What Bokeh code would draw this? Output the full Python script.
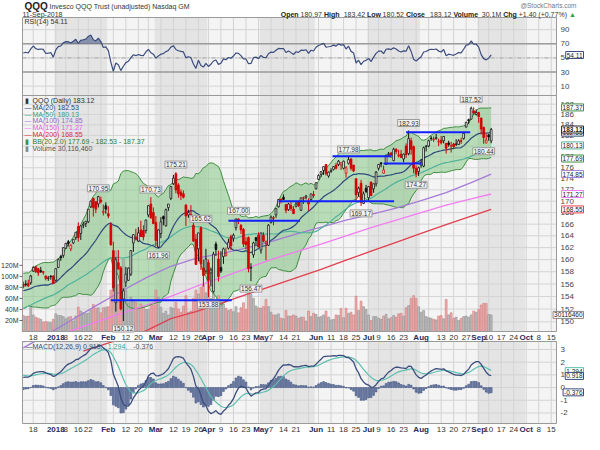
import numpy as np
from bokeh.plotting import figure
from bokeh.models import Range1d, LinearScale, LogScale, Label, ColumnDataSource
from bokeh.core.properties import value
from bokeh.embed import file_html
from bokeh.resources import INLINE

FONT = "Liberation Sans"

# ---------------- data ----------------
# closes before the visible window (warm-up for the indicators)
prior_closes = [146.6,
    146.5, 146.9, 147.0, 148.4, 148.6,
    148.3, 148.0, 148.4, 148.4, 148.8,
    149.0, 149.0, 148.6, 147.8, 148.1,
    147.2, 147.8, 146.9, 146.7, 151.9,
    152.5, 152.6,
    152.3, 152.5, 154.0,
    154.4, 154.5, 155.1, 154.3, 154.2,
    154.4, 154.0, 153.0, 155.0, 154.5,
    154.7, 156.3, 156.5, 156.9,
    156.6, 157.3, 153.6, 155.0,
    154.3,
    152.7, 152.6, 153.4, 154.6, 155.3,
    156.4]

# trading-day index: 0 = 18-Dec-2017 ... 183 = 11-Sep-2018
day_index = list(range(-4, 184))

opens = [
    156.0, 155.9, 156.1, 156.2,
    158.1, 158.8, 158.5, 158.2, 157.9,
    157.3, 156.9, 157.3, 157.3,
    156.6, 158.7, 160.5, 160.7,
    161.9, 163.0, 161.8, 162.8, 163.7,
    165.6, 164.4, 165.8, 166.1,
    166.4, 169.0, 170.5, 169.9, 169.5,
    170.2, 168.0, 169.2, 167.8, 165.9,
    161.5, 153.0, 159.5, 158.6, 153.6,
    156.3, 156.6, 157.6, 162.8, 163.8,
    163.1, 165.0, 164.9, 164.9,
    167.6, 169.5, 168.0, 166.3, 162.1,
    164.4, 167.3, 165.7, 168.9, 170.5,
    173.1, 174.9, 172.9, 171.6, 171.3,
    169.3, 167.6, 167.7, 165.8, 163.4,
    161.8, 165.4, 158.6, 158.1,
    159.5, 157.8, 154.8, 162.6, 160.1,
    158.7, 160.5, 160.7, 161.9, 163.9,
    163.6, 165.4, 166.9, 165.8, 165.1,
    163.0, 163.7, 158.6, 160.8, 163.7,
    164.1, 161.6, 164.1, 162.8, 162.4,
    166.3, 167.0, 167.6, 169.0, 170.3,
    170.7, 169.4, 168.5, 169.2, 168.6,
    169.1, 169.9, 168.4, 170.6, 170.7,
    169.8, 170.3, 171.2, 172.2,
    173.9, 174.8, 175.5, 176.6, 174.5,
    175.3, 175.7, 176.5, 176.6, 176.5,
    175.9, 175.0, 176.8, 177.6, 176.5,
    174.0, 171.5, 173.2, 169.6, 172.3,
    170.6, 173.4, 172.2, 173.1,
    175.9, 176.9, 175.0, 176.6, 178.4,
    178.7, 177.3, 179.4, 178.2, 178.5,
    177.6, 180.0, 178.6, 181.0, 179.9,
    175.9, 175.3, 176.5, 176.3, 179.9,
    180.0, 181.5, 181.2, 181.4, 180.8,
    181.1, 181.0, 180.5, 180.6, 180.0,
    180.4, 180.3, 180.3, 180.9, 181.4,
    183.6, 185.0, 185.1, 186.7, 186.0,
    186.4, 185.3, 183.5, 180.6,
    182.1, 180.97]

highs = [
    156.4, 156.6, 156.7, 157.5,
    158.9, 158.9, 158.6, 158.8, 158.1,
    157.4, 157.3, 157.4, 157.4,
    158.5, 160.2, 160.8, 162.0,
    162.8, 163.3, 162.6, 163.4, 164.6,
    166.3, 165.8, 166.4, 166.5,
    168.6, 170.1, 170.6, 170.0, 170.95,
    170.8, 169.4, 169.8, 169.1, 166.3,
    163.0, 160.4, 161.6, 158.9, 155.3,
    158.8, 158.7, 161.6, 164.2, 165.2,
    165.5, 166.6, 165.8, 166.8,
    169.3, 170.73, 168.9, 167.4, 165.1,
    167.2, 167.5, 168.7, 169.5, 172.6,
    174.7, 175.21, 173.2, 172.1, 171.9,
    169.5, 168.5, 169.3, 166.7, 164.3,
    164.5, 165.62, 160.0, 161.8,
    160.0, 158.7, 161.3, 163.0, 161.5,
    161.4, 162.0, 162.0, 163.5, 164.2,
    164.4, 166.9, 167.00, 166.0, 165.3,
    163.8, 163.9, 159.4, 163.0, 163.8,
    164.6, 164.5, 164.6, 163.2, 166.0,
    167.5, 167.4, 168.7, 170.3, 170.5,
    171.2, 169.4, 169.7, 169.8, 169.1,
    170.0, 170.0, 170.6, 170.8, 171.1,
    170.5, 171.3, 171.8, 173.3,
    174.8, 175.4, 176.2, 176.6, 175.3,
    175.9, 176.3, 176.9, 177.4, 177.0,
    177.3, 176.3, 177.98, 177.8, 176.5,
    174.1, 172.6, 173.8, 171.7, 172.9,
    172.7, 173.5, 173.1, 175.4,
    176.6, 177.0, 176.4, 178.4, 178.9,
    178.9, 179.7, 179.6, 179.3, 179.3,
    178.6, 180.5, 182.93, 181.6, 180.1,
    176.4, 176.2, 177.6, 179.9, 180.2,
    181.2, 181.9, 181.8, 182.3, 181.4,
    181.9, 181.8, 180.6, 181.0, 180.8,
    180.6, 181.3, 181.3, 181.6, 182.5,
    184.6, 185.2, 187.52, 187.4, 187.0,
    186.5, 185.4, 183.7, 182.3,
    182.3, 183.42]

lows = [
    155.3, 155.6, 155.5, 155.9,
    158.0, 157.8, 157.3, 157.8, 157.5,
    156.6, 156.5, 156.7, 156.1,
    156.4, 158.6, 159.8, 160.3,
    161.8, 162.2, 161.4, 162.6, 163.3,
    163.0, 163.3, 165.3, 165.5,
    166.2, 168.8, 167.3, 167.9, 168.9,
    169.6, 167.5, 167.8, 167.0, 162.3,
    154.8, 151.6, 158.3, 151.8, 150.12,
    155.5, 156.5, 157.3, 161.3, 163.2,
    163.0, 163.8, 163.2, 164.4,
    167.2, 166.9, 166.0, 162.2, 161.96,
    163.6, 165.8, 165.6, 168.3, 170.2,
    172.9, 171.4, 170.6, 170.2, 170.5,
    165.7, 167.1, 167.3, 163.0, 159.2,
    159.7, 158.3, 155.6, 157.6,
    153.88, 155.6, 154.6, 160.6, 156.4,
    157.8, 159.3, 160.5, 161.7, 161.6,
    163.0, 164.9, 166.0, 164.3, 162.1,
    161.7, 157.9, 156.47, 160.3, 162.3,
    162.1, 161.0, 162.9, 159.9, 162.3,
    166.1, 165.8, 167.1, 168.9, 169.6,
    170.2, 167.9, 168.3, 168.3, 167.8,
    168.9, 169.0, 168.3, 169.5, 170.3,
    168.3, 170.1, 170.6, 172.1,
    173.8, 174.3, 174.7, 174.6, 174.2,
    175.1, 175.5, 175.7, 176.3, 175.6,
    175.7, 174.2, 176.6, 175.5, 175.2,
    170.0, 170.8, 169.17, 169.5, 171.4,
    170.1, 170.9, 171.5, 172.6,
    175.5, 176.1, 175.0, 176.5, 178.1,
    177.8, 177.2, 178.5, 177.9, 177.8,
    177.0, 177.8, 178.3, 178.4, 175.0,
    174.27, 174.5, 176.0, 176.1, 179.0,
    179.8, 181.0, 180.8, 181.2, 180.0,
    180.3, 180.5, 178.6, 179.9, 178.8,
    179.5, 180.0, 180.2, 180.4, 181.2,
    183.5, 184.2, 185.0, 185.9, 185.8,
    184.4, 182.2, 180.44, 180.5,
    181.0, 180.52]

closes = [
    155.6, 155.9, 155.7, 157.3,
    158.7, 158.0, 157.8, 158.0, 157.9,
    156.9, 157.0, 157.2, 156.1,
    158.5, 160.0, 160.3, 162.0,
    162.7, 162.7, 162.4, 163.4, 164.6,
    163.7, 165.7, 166.0, 166.5,
    168.6, 170.0, 168.9, 168.6, 170.8,
    169.9, 168.2, 168.6, 167.4, 162.5,
    155.4, 160.0, 158.5, 152.0, 154.9,
    157.6, 158.6, 161.5, 164.2, 163.5,
    164.5, 163.9, 163.8, 166.7,
    169.2, 167.1, 166.1, 163.2, 165.0,
    166.4, 166.9, 168.5, 169.5, 172.6,
    174.1, 172.0, 171.3, 171.0, 170.7,
    167.4, 168.0, 167.5, 163.1, 159.2,
    164.5, 159.3, 157.4, 160.1,
    156.6, 158.3, 160.9, 161.7, 157.2,
    158.1, 161.8, 161.0, 162.9, 162.3,
    164.1, 166.9, 166.6, 165.0, 162.6,
    162.5, 158.5, 158.7, 162.8, 163.2,
    162.1, 164.5, 163.1, 163.0, 165.8,
    167.2, 167.0, 168.7, 170.3, 170.2,
    170.3, 168.4, 169.5, 168.7, 167.8,
    169.5, 169.2, 170.6, 170.5, 170.9,
    169.5, 171.3, 171.0, 173.3,
    174.6, 175.3, 176.2, 174.9, 175.2,
    175.5, 176.2, 175.9, 177.2, 176.9,
    177.2, 176.0, 177.5, 175.9, 175.4,
    171.1, 172.3, 169.8, 171.3, 171.7,
    172.6, 171.0, 173.1, 175.2,
    176.6, 176.7, 175.6, 178.3, 178.6,
    178.3, 179.4, 179.0, 178.3, 177.9,
    178.5, 178.4, 181.4, 179.4, 175.9,
    174.9, 176.0, 177.0, 179.7, 180.0,
    181.0, 181.4, 181.3, 181.6, 180.9,
    180.6, 181.8, 179.6, 180.3, 180.1,
    179.9, 180.4, 181.0, 180.9, 182.4,
    184.5, 184.8, 187.2, 186.3, 186.4,
    185.6, 183.2, 181.6, 181.1,
    181.72, 183.12]

volume_m = [
    29, 27, 28, 45,
    30, 26, 24, 22, 17,
    18, 17, 16, 22,
    32, 29, 29, 27,
    23, 26, 27, 19, 28,
    44, 37, 34, 33,
    33, 39, 49, 42, 43,
    34, 43, 44, 45, 75,
    128, 146, 85, 118, 130,
    75, 52, 62, 57, 53,
    43, 50, 45, 40,
    40, 49, 48, 75, 62,
    44, 33, 37, 30, 44,
    42, 53, 41, 35, 46,
    65, 35, 37, 60, 75,
    68, 80, 85, 70,
    85, 60, 70, 48, 65,
    52, 50, 42, 38, 40,
    36, 45, 34, 43, 52,
    40, 70, 67, 60, 46,
    43, 42, 45, 58, 45,
    35, 30, 30, 32, 24,
    23, 38, 28, 28, 30,
    28, 24, 26, 26, 19,
    37, 27, 33, 31,
    26, 27, 30, 37, 26,
    21, 22, 30, 29, 42,
    25, 42, 33, 35, 30,
    64, 38, 55, 45, 40,
    30, 20, 27, 27,
    24, 22, 28, 31, 23,
    25, 29, 26, 32, 33,
    28, 43, 47, 60, 65,
    60, 45, 35, 38, 27,
    25, 24, 22, 21, 28,
    29, 23, 58, 30, 34,
    24, 26, 20, 24, 27,
    28, 26, 30, 37, 35,
    40, 48, 51, 51,
    31, 30.12]

# long moving averages
ma100_idx = [-4, 8, 15, 25, 35, 45, 55, 65, 75, 85, 95, 105, 115, 125, 135, 145, 155, 165, 175, 183]
ma100_val = [146.0, 148.6, 150.2, 152.5, 154.8, 157.0, 158.9, 160.2, 161.0, 161.9, 163.0, 164.3,
             165.5, 166.7, 167.7, 168.8, 170.1, 171.5, 173.3, 174.85]
ma150_idx = [-4, 15, 30, 45, 55, 65, 75, 85, 95, 105, 115, 125, 135, 145, 155, 165, 175, 183]
ma150_val = [146.9, 148.6, 150.6, 152.6, 154.0, 155.6, 157.0, 158.5, 160.0, 161.3, 162.6, 164.0,
             165.4, 166.7, 168.0, 169.3, 170.4, 171.27]
ma200_idx = [20, 45, 55, 65, 75, 85, 95, 105, 115, 125, 135, 145, 155, 165, 175, 183]
ma200_val = [145.5, 148.6, 150.5, 151.6, 152.9, 154.3, 155.6, 157.0, 158.4, 159.9, 161.4, 162.9,
             164.4, 165.9, 167.4, 168.55]

# price call-outs
pl_idx = [26, 36, 47, 50, 57, 67, 70, 82, 87, 126, 131, 150, 153, 175, 180]
pl_val = [170.95, 150.12, 170.73, 161.96, 175.21, 165.62, 153.88, 167.00, 156.47,
          177.98, 169.17, 182.93, 174.27, 187.52, 180.44]
pl_above = [True, False, True, False, True, True, False, True, False,
            True, False, True, False, True, False]

# drawn support / resistance lines
hl_start = [31, 78, 98, 119.6, 140, 149]
hl_end = [79.3, 106.6, 144.2, 143, 155.2, 174.6]
hl_level = [153.4, 166.6, 170.0, 178.1, 176.8, 182.6]

# axes
grid_weeks = [0, 5, 9, 13, 18, 22, 27, 32, 37, 42, 46, 51, 56, 61, 66, 70, 75, 80, 85, 90, 95, 100,
              105, 110, 114, 119, 124, 129, 134, 138, 143, 148, 153, 158, 163, 168, 173, 178, 182,
              187, 192, 197, 202, 207]
tick_idx = [0, 9, 13, 18, 22, 30, 37, 42, 49, 56, 61, 66, 70, 75, 80, 85, 91, 95, 100, 105, 113,
            119, 124, 129, 134, 138, 143, 148, 155, 163, 168, 173, 178, 182, 187, 192, 197, 202, 207]
tick_lab = ["18", "2018", "8", "16", "22", "Feb", "12", "20", "Mar", "12", "19", "26", "Apr", "9",
            "16", "23", "May", "7", "14", "21", "Jun", "11", "18", "25", "Jul", "9", "16", "23",
            "Aug", "13", "20", "27", "Sep", "10", "17", "24", "Oct", "8", "15"]
month_start = [9, 30, 49, 70, 91, 113, 134, 155, 178, 197]  # first trading day Jan..Oct
price_ticks = list(range(150, 189, 2))
rsi_ticks = [10, 30, 50, 70, 90]
macd_ticks = [-2, -1, 0, 1, 2, 3]
vol_ticks = [20, 40, 60, 80, 100, 120]

# ---------------- indicators ----------------
allc = np.array(prior_closes + closes, dtype=float)
n0 = len(prior_closes)


def sma(a, n):
    out = np.full(a.size, np.nan)
    for i in range(n - 1, a.size):
        out[i] = a[i - n + 1:i + 1].mean()
    return out


def sstd(a, n):
    out = np.full(a.size, np.nan)
    for i in range(n - 1, a.size):
        out[i] = a[i - n + 1:i + 1].std()
    return out


def ema(a, n):
    out = np.full(a.size, np.nan)
    s = int(np.where(~np.isnan(a))[0][0])
    out[s + n - 1] = a[s:s + n].mean()
    k = 2.0 / (n + 1)
    for i in range(s + n, a.size):
        out[i] = a[i] * k + out[i - 1] * (1 - k)
    return out


ma20 = sma(allc, 20)[n0:]
sd20 = sstd(allc, 20)[n0:]
bb_up = ma20 + 2 * sd20
bb_lo = ma20 - 2 * sd20
ma50 = sma(allc, 50)[n0:]
macd_full = ema(allc, 12) - ema(allc, 26)
sig_full = ema(macd_full, 9)
macd = macd_full[n0:]
sig = sig_full[n0:]
hist = macd - sig

dd = np.diff(allc)
gg = np.clip(dd, 0, None)
ll = np.clip(-dd, 0, None)
rsi_full = np.full(allc.size, np.nan)
ag, al = gg[:14].mean(), ll[:14].mean()
rsi_full[14] = 100 - 100 / (1 + ag / al)
for i in range(15, allc.size):
    ag = (ag * 13 + gg[i - 1]) / 14
    al = (al * 13 + ll[i - 1]) / 14
    rsi_full[i] = 100 - 100 / (1 + ag / al) if al > 0 else 100
rsi = rsi_full[n0:]

# ---------------- geometry (one canvas, panels drawn inside) ----------------
W, H = 584, 434
PADL, PADR = 22, 28
X0, X1 = -4.3, 209.1
PPI = (W - PADL - PADR) / (X1 - X0)
XL, XR = X0 - PADL / PPI, X1 + PADR / PPI

RSI_T, RSI_B = 17, 95
MAIN_T, MAIN_B = 95, 331
MACD_T, MACD_B = 341, 423
RSI_HI, RSI_LO = 107.3, -3.3
P_HI, P_LO = 189.7, 148.5
V_LO, V_HI = 0.0, 428.0
M_HI, M_LO = 3.63, -2.83


def lin_range(v_top, v_bot, px_top, px_bot):
    k = (v_top - v_bot) / (px_bot - px_top)
    return Range1d(start=v_top - (H - px_top) * k, end=v_top + px_top * k)


def log_range(v_top, v_bot, px_top, px_bot):
    r = lin_range(np.log(v_top), np.log(v_bot), px_top, px_bot)
    return Range1d(start=float(np.exp(r.start)), end=float(np.exp(r.end)))


p = figure(frame_width=W, frame_height=H, x_range=Range1d(XL, XR), y_range=Range1d(H, 0),
           x_axis_location=None, y_axis_location=None, toolbar_location=None,
           output_backend="svg", min_border=0, outline_line_color=None,
           background_fill_color="white", border_fill_color="white")
p.grid.visible = False
p.extra_y_ranges = {"rsi": lin_range(RSI_HI, RSI_LO, RSI_T, RSI_B),
                    "price": log_range(P_HI, P_LO, MAIN_T, MAIN_B),
                    "vol": lin_range(V_HI, V_LO, MAIN_T, MAIN_B),
                    "macd": lin_range(M_HI, M_LO, MACD_T, MACD_B)}
p.extra_y_scales = {"rsi": LinearScale(), "price": LogScale(), "vol": LinearScale(),
                    "macd": LinearScale()}

band_l = [month_start[i] - 0.5 for i in (0, 2, 4, 6, 8)]
band_r = [month_start[i + 1] - 0.5 for i in (0, 2, 4, 6, 8)]
GRID = "#d3d3d3"

for (T, B), (rname, ticks) in zip([(RSI_T, RSI_B), (MAIN_T, MAIN_B), (MACD_T, MACD_B)],
                                  [("rsi", rsi_ticks), ("price", price_ticks),
                                   ("macd", macd_ticks)]):
    p.quad(left=X0, right=X1, top=T, bottom=B, fill_color="#f4f4f4", line_color=None)
    p.quad(left=band_l, right=band_r, top=T, bottom=B, fill_color="#e4e4e4", line_color=None)
    p.segment(x0=grid_weeks, y0=T, x1=grid_weeks, y1=B, line_color=GRID, line_width=1)
    p.segment(x0=X0, y0=ticks, x1=X1, y1=ticks, line_color=GRID, line_width=1,
              y_range_name=rname)

# ---- RSI ----
for lv, dash, col, wd in [(70, "solid", "#9c9c9c", 1.5), (30, "solid", "#9c9c9c", 1.5),
                          (50, "4 2 1 2", "#a8a8a8", 1)]:
    p.segment(x0=X0, y0=lv, x1=X1, y1=lv, line_color=col, line_width=wd, line_dash=dash,
              y_range_name="rsi")
idx = np.array(day_index, dtype=float)
p.varea(x=idx, y1=70, y2=np.maximum(rsi, 70), fill_color="#56658e", fill_alpha=0.65,
        y_range_name="rsi")
p.line(idx, rsi, line_color="#3b4d7e", line_width=1.2, y_range_name="rsi")

# ---- price panel ----
o = np.array(opens)
h = np.array(highs)
lo_ = np.array(lows)
c = np.array(closes)
prev = np.concatenate([[prior_closes[-1]], c[:-1]])
down = c < prev

p.varea(x=idx, y1=bb_lo, y2=bb_up, fill_color="#8fc98f", fill_alpha=0.6, y_range_name="price")
vsrc = ColumnDataSource(dict(x=idx, top=np.array(volume_m, dtype=float),
                             fill=np.where(down, "#eda6a6", "#b9b9b9"),
                             line=np.where(down, "#d27878", "#8d8d8d")))
p.vbar(x="x", top="top", bottom=0, width=0.75, source=vsrc, fill_color="fill",
       line_color="line", line_width=0.6, fill_alpha=0.9, y_range_name="vol")
p.line(idx, bb_up, line_color="#3f8f3f", line_width=1, y_range_name="price")
p.line(idx, bb_lo, line_color="#3f8f3f", line_width=1, y_range_name="price")
p.line(ma200_idx, ma200_val, line_color="#e0404f", line_width=1.3, y_range_name="price")
p.line(ma150_idx, ma150_val, line_color="#f27cf2", line_width=1.3, y_range_name="price")
p.line(ma100_idx, ma100_val, line_color="#a57bd6", line_width=1.3, y_range_name="price")
p.line(idx, ma50, line_color="#4fb39b", line_width=1.2, y_range_name="price")
p.line(idx, ma20, line_color="#2f4a7a", line_width=1.2, y_range_name="price")

ccol = np.where(down, "#d40000", "#111111")
btop = np.maximum(o, c)
bbot = np.minimum(o, c)
btop = np.where(btop - bbot < 0.1, bbot + 0.1, btop)
hollow = c > o
csrc = ColumnDataSource(dict(x=idx, h=h, l=lo_, top=btop, bot=bbot, col=ccol,
                             fill=np.where(hollow, "#ffffff", ccol)))
p.segment(x0="x", y0="h", x1="x", y1="l", source=csrc, line_color="col", line_width=1,
          y_range_name="price")
p.vbar(x="x", top="top", bottom="bot", width=0.7, source=csrc, fill_color="fill",
       line_color="col", line_width=0.8, y_range_name="price")
p.segment(x0=hl_start, y0=hl_level, x1=hl_end, y1=hl_level, line_color="#1020ff",
          line_width=2, y_range_name="price")

# ---- MACD ----
p.vbar(x=idx, top=hist, bottom=0, width=0.7, fill_color="#7282a8", line_color="#3b4d7e",
       line_width=0.6, y_range_name="macd")
p.line(idx, sig, line_color="#5cbfae", line_width=1.2, y_range_name="macd")
p.line(idx, macd, line_color="#3b4d7e", line_width=1.3, y_range_name="macd")

# masks for the strips between panels, then panel outlines
p.quad(left=XL, right=XR, top=MAIN_B + 0.5, bottom=MACD_T - 0.5, fill_color="white",
       line_color=None)
p.quad(left=XL, right=XR, top=MACD_B + 0.5, bottom=H, fill_color="white", line_color=None)
p.quad(left=XL, right=XR, top=0, bottom=RSI_T - 0.5, fill_color="white", line_color=None)
p.quad(left=X0, right=X1, top=[RSI_T, MAIN_T, MACD_T], bottom=[RSI_B, MAIN_B, MACD_B],
       fill_color=None, line_color="#9a9a9a", line_width=1)

# ---------------- texts ----------------
TXT = "#333333"


def txt(xs, ys, texts, yname="default", size="8px", color=TXT, bold=False, align="left",
        xoff=0):
    p.text(x=xs, y=ys, text=texts, y_range_name=yname, x_offset=xoff,
           text_font=value(FONT), text_font_size=value(size), text_color=color,
           text_font_style="bold" if bold else "normal", text_align=align,
           text_baseline="middle")


# right-hand scales
txt([X1] * len(rsi_ticks), rsi_ticks, [str(t) for t in rsi_ticks], "rsi", color="#444444", xoff=4)
txt([X1] * len(price_ticks), price_ticks, [str(t) for t in price_ticks], "price",
    color="#444444", xoff=4)
txt([X1] * len(macd_ticks), macd_ticks, [str(t) for t in macd_ticks], "macd", color="#444444",
    xoff=4)
# volume scale (left)
txt([X0] * len(vol_ticks), vol_ticks, [f"{v}M" for v in vol_ticks], "vol", size="7px",
    align="right", xoff=-4)
p.segment(x0=X0 - 3 / PPI, y0=vol_ticks, x1=X0, y1=vol_ticks, line_color="#666666",
          y_range_name="vol")

# date labels
is_m = [lab.isalpha() or lab == "2018" for lab in tick_lab]
for yy in ((MAIN_B + MACD_T) / 2 + 0.5, (MACD_B + H) / 2 + 0.5):
    txt([t for t, m in zip(tick_idx, is_m) if not m], [yy] * is_m.count(False),
        [lab for lab, m in zip(tick_lab, is_m) if not m], align="center", color=TXT)
    txt([t for t, m in zip(tick_idx, is_m) if m], [yy] * is_m.count(True),
        [lab for lab, m in zip(tick_lab, is_m) if m], align="center", color="#1e2d5a", bold=True)


def put(px, y, text, size="7px", color=TXT, bold=False, align="left", yname="default"):
    p.add_layout(Label(x=X0, y=y, x_offset=px, text=text, y_range_name=yname,
                       text_font=FONT, text_font_size=size, text_color=color,
                       text_font_style="bold" if bold else "normal",
                       text_align=align, text_baseline="middle"))


def vbox(y, text, color, yname, bold=False):
    p.add_layout(Label(x=XR, y=y, x_offset=-1, text=text, y_range_name=yname,
                       text_font=FONT, text_font_size="6.5px", text_color="#222222",
                       text_font_style="bold" if bold else "normal",
                       text_align="right", text_baseline="middle",
                       background_fill_color="white", border_line_color=color,
                       border_line_width=1, padding=1))


CW = {ch: 0.556 for ch in "0123456789"}
CW.update({".": 0.278, ",": 0.278, " ": 0.278, "(": 0.333, ")": 0.333, "+": 0.584,
           "-": 0.333, "%": 0.889, "M": 0.833, "\u25b2": 0.8})


def tw(s, size, bold=False):
    w = 0.0
    for ch in s:
        if ch in CW:
            w += CW[ch]
        elif ch.isupper():
            w += 0.72 if bold else 0.667
        else:
            w += 0.611 if bold else 0.5
    return w * size


# title block
put(2, 5.5, "QQQ", size="10px", color="#222222", bold=True)
put(27, 6, "Invesco QQQ Trust (unadjusted)  Nasdaq GM", size="7px")
put(0, 13.5, "11-Sep-2018", size="7px")
put(554, 5, "@StockCharts.com", size="6.5px", color="#777777", align="right")
segs = [("Open", True, "#222222"), ("180.97", False, TXT), ("High", True, "#222222"),
        ("183.42", False, TXT), ("Low", True, "#222222"), ("180.52", False, TXT),
        ("Close", True, "#222222"), ("183.12", False, TXT), ("Volume", True, "#222222"),
        ("30.1M", False, TXT), ("Chg", True, "#222222"),
        ("+1.40 (+0.77%)", False, TXT), ("\u25b2", False, "#2e9e3e")]
xr = 552.0
for s, b, col in reversed(segs):
    xr -= tw(s, 7, b)
    put(xr, 13.5, s, size="7px", color=col, bold=b)
    xr -= tw(" ", 7)

# RSI header + value
put(2, RSI_T + 4, "RSI(14) 54.11", size="7px")
vbox(54.11, "54.11", "#3b4d7e", "rsi")

# price legend
legend = [("QQQ (Daily) 183.12", "#333333", "#333333"),
          ("MA(20) 182.53", "#2f4a7a", "#2f4a7a"),
          ("MA(50) 180.13", "#3a9f88", "#4fb39b"),
          ("MA(100) 174.85", "#9466cc", "#a57bd6"),
          ("MA(150) 171.27", "#e25ee2", "#f27cf2"),
          ("MA(200) 168.55", "#d93040", "#e0404f"),
          ("BB(20,2.0) 177.69 - 182.53 - 187.37", "#2e7d32", "#3f8f3f"),
          ("Volume 30,116,460", "#555555", "#888888")]
for k, (tx, tc, ic) in enumerate(legend):
    yy = MAIN_T + 5 + 6.8 * k
    icon = "\u25ae" if k in (0, 6, 7) else "\u2014"
    put(2, yy, icon, size="7px", color=ic)
    put(10, yy, tx, size="7px", color=tc)

# price call-outs
for xi, yv, ab in zip(pl_idx, pl_val, pl_above):
    p.add_layout(Label(x=xi, y=yv, y_offset=4 if ab else -4, text=f"{yv:.2f}",
                       y_range_name="price", text_font=FONT, text_font_size="6.5px",
                       text_color="#333333", text_align="center",
                       text_baseline="bottom" if ab else "top",
                       background_fill_color="#f2f2f2", border_line_color="#9a9a9a",
                       padding=1))

# last-value boxes
vbox(168.55, "168.55", "#e0404f", "price")
vbox(171.27, "171.27", "#f27cf2", "price")
vbox(174.85, "174.85", "#a57bd6", "price")
vbox(177.69, "177.69", "#3f8f3f", "price")
vbox(180.13, "180.13", "#4fb39b", "price")
vbox(182.53, "182.53", "#2f4a7a", "price")
vbox(187.37, "187.37", "#3f8f3f", "price")
vbox(183.12, "183.12", "#222222", "price", bold=True)
vbox(30.12, "30116460", "#888888", "vol")

# MACD header + values
put(3, MACD_T + 5, "\u2014", color="#3b4d7e")
mx = 10
put(mx, MACD_T + 5, "MACD(12,26,9) 0.918,", color="#3b4d7e")
mx += tw("MACD(12,26,9) 0.918,", 7) + 6
put(mx, MACD_T + 5, "1.294,", color="#3aaa98")
mx += tw("1.294,", 7) + 6
put(mx, MACD_T + 5, "-0.376", color="#555555")
vbox(1.294, "1.294", "#5cbfae", "macd")
vbox(0.918, "0.918", "#3b4d7e", "macd")
vbox(-0.376, "-0.376", "#3b4d7e", "macd")

open("out.html", "w").write(file_html(p, INLINE))
